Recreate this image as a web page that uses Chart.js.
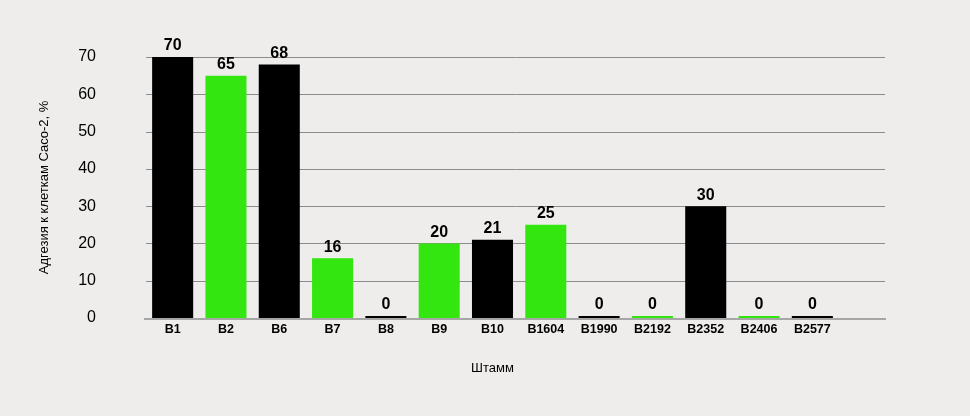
<!DOCTYPE html>
<html>
<head>
<meta charset="utf-8">
<script src="https://cdn.jsdelivr.net/npm/chart.js@4/dist/chart.umd.min.js"></script>
<style>
  html, body { margin: 0; padding: 0; background: #eeedec; }
  #wrap { width: 970px; height: 416px; }
</style>
</head>
<body>
<div id="wrap"><canvas id="adh"></canvas></div>
<script>
const strains = ['B1', 'B2', 'B6', 'B7', 'B8', 'B9', 'B10', 'B1604', 'B1990', 'B2192', 'B2352', 'B2406', 'B2577'];
const adhesion = [70, 65, 68, 16, 0, 20, 21, 25, 0, 0, 30, 0, 0];
const barColors = ['#000000', '#33e60f', '#000000', '#33e60f', '#000000', '#33e60f', '#000000',
                   '#33e60f', '#000000', '#33e60f', '#000000', '#33e60f', '#000000'];
const yTicks = [0, 10, 20, 30, 40, 50, 60, 70];

// horizontal grid lines run a bit past the last category, like in the original
const gridExtend = {
  id: 'gridExtend',
  beforeDatasetsDraw(chart) {
    const ctx = chart.ctx;
    const y = chart.scales.y;
    const left = chart.chartArea.left;
    const right = chart.chartArea.right + 46;
    ctx.save();
    y.ticks.forEach(t => {
      const py = Math.round(y.getPixelForValue(t.value));
      ctx.beginPath();
      if (t.value === 0) {
        ctx.strokeStyle = '#a6a6a6';
        ctx.lineWidth = 2;
        ctx.moveTo(left - 2, py + 1);
        ctx.lineTo(right + 1, py + 1);
      } else {
        ctx.strokeStyle = '#8c8c8c';
        ctx.lineWidth = 1;
        ctx.moveTo(left, py + 0.5);
        ctx.lineTo(right, py + 0.5);
      }
      ctx.stroke();
    });
    ctx.restore();
  }
};

// value above each bar
const valueLabels = {
  id: 'valueLabels',
  afterDatasetsDraw(chart) {
    const ctx = chart.ctx;
    const meta = chart.getDatasetMeta(0);
    ctx.save();
    ctx.font = 'bold 16px "Liberation Sans", Arial, sans-serif';
    ctx.fillStyle = '#000';
    ctx.textAlign = 'center';
    ctx.textBaseline = 'bottom';
    meta.data.forEach((bar, i) => {
      ctx.fillText(adhesion[i], bar.x, bar.y - 3);
    });
    ctx.restore();
  }
};

const bg = {
  id: 'bg',
  beforeDraw(chart) {
    const c = chart.ctx;
    c.save();
    c.fillStyle = '#eeedec';
    c.fillRect(0, 0, chart.width, chart.height);
    c.restore();
  }
};

new Chart(document.getElementById('adh'), {
  type: 'bar',
  data: {
    labels: strains,
    datasets: [{
      data: adhesion,
      backgroundColor: barColors,
      barPercentage: 0.77,
      categoryPercentage: 1,
      minBarLength: 2
    }]
  },
  options: {
    responsive: true,
    maintainAspectRatio: false,
    animation: false,
    layout: { padding: { top: 57, right: 131, left: 0, bottom: 0 } },
    plugins: {
      legend: { display: false },
      tooltip: { enabled: false }
    },
    scales: {
      x: {
        grid: { display: false, drawTicks: false },
        border: { display: false },
        ticks: {
          color: '#000',
          padding: 4,
          font: { family: '"Liberation Sans", Arial, sans-serif', size: 12.5, weight: 'bold' }
        },
        title: {
          display: true,
          text: 'Штамм',
          color: '#000',
          padding: { top: 0, bottom: 40 },
          font: { family: '"Liberation Sans", Arial, sans-serif', size: 13 }
        },
        afterFit(scale) { scale.height = 98; }
      },
      y: {
        min: 0,
        max: 70,
        afterBuildTicks(scale) { scale.ticks = yTicks.map(v => ({ value: v })); },
        grid: { display: false, drawTicks: false },
        border: { display: false },
        ticks: {
          color: '#000',
          padding: 50,
          font: { family: '"Liberation Sans", Arial, sans-serif', size: 16 }
        },
        title: {
          display: true,
          text: 'Адгезия к клеткам Caco-2, %',
          color: '#000',
          padding: { top: 37, bottom: 0 },
          font: { family: '"Liberation Sans", Arial, sans-serif', size: 13 }
        },
        afterFit(scale) {
          scale.width = 146;
          scale.paddingTop = 0;
          scale.paddingBottom = 0;
        }
      }
    }
  },
  plugins: [bg, gridExtend, valueLabels]
});
</script>
</body>
</html>
